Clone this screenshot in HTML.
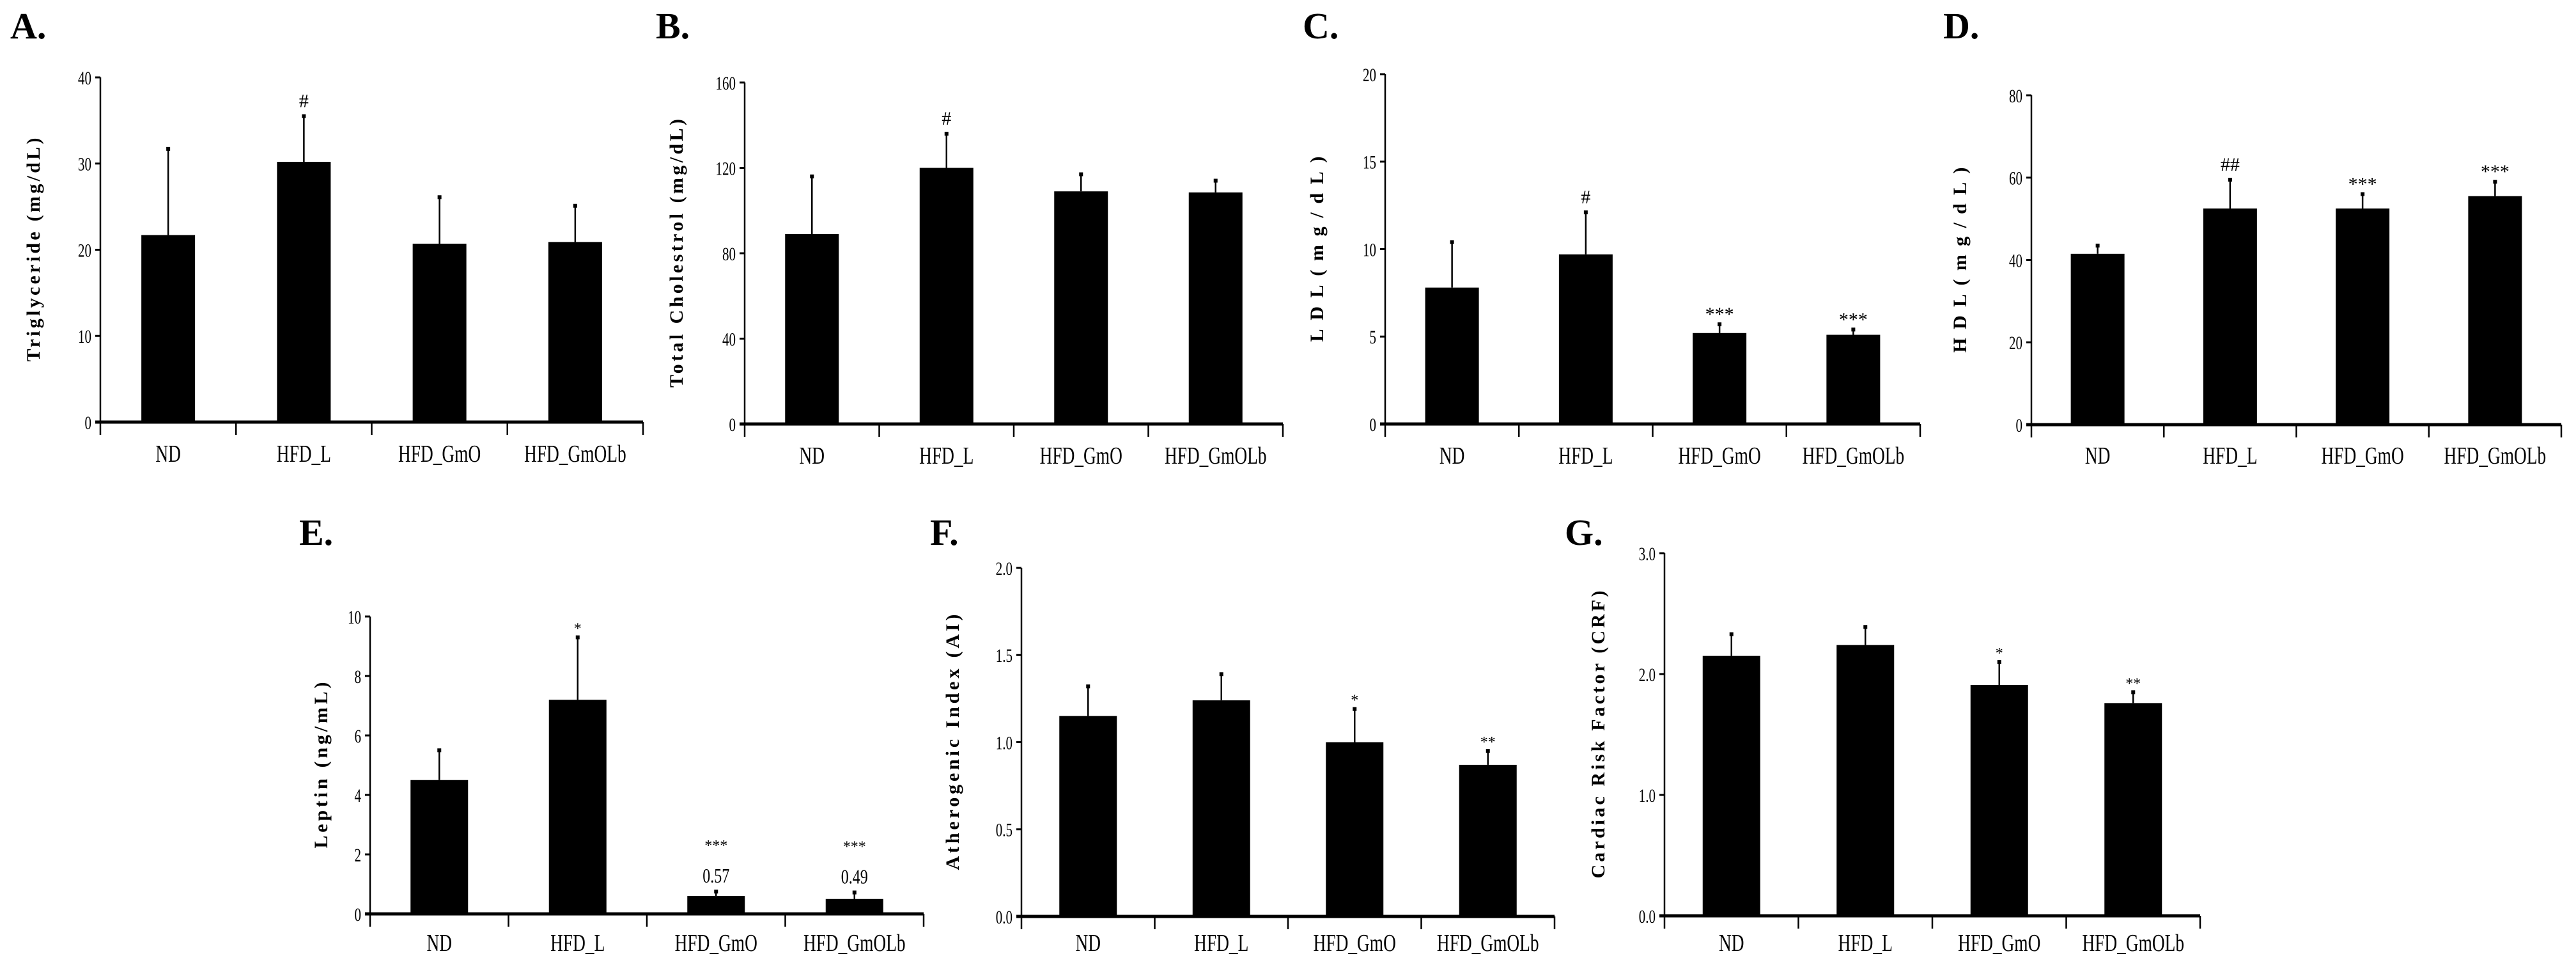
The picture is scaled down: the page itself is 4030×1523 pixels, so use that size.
<!DOCTYPE html>
<html><head><meta charset="utf-8"><style>
html,body{margin:0;padding:0;background:#fff;}
svg{display:block;}
text{font-family:"Liberation Serif",serif;fill:#000;}
</style></head><body>
<svg id="fig" width="4030" height="1523" viewBox="0 0 4030 1523" xmlns="http://www.w3.org/2000/svg"></svg>
<script>
const categories = ["ND","HFD_L","HFD_GmO","HFD_GmOLb"];
const trigValues = [21.7, 30.2, 20.7, 20.9];
const trigErrTop = [31.7, 35.5, 26.1, 25.1];
const trigSig = ["", "#", "", ""];
const cholValues = [89, 120, 109, 108.5];
const cholErrTop = [116, 136, 117, 114];
const cholSig = ["", "#", "", ""];
const ldlValues = [7.8, 9.7, 5.2, 5.1];
const ldlErrTop = [10.4, 12.1, 5.7, 5.4];
const ldlSig = ["", "#", "***", "***"];
const hdlValues = [41.5, 52.5, 52.5, 55.5];
const hdlErrTop = [43.5, 59.5, 56, 59];
const hdlSig = ["", "##", "***", "***"];
const leptinValues = [4.5, 7.2, 0.6, 0.5];
const leptinErrTop = [5.5, 9.3, 0.75, 0.72];
const leptinSig = ["", "*", "***", "***"];
const leptinPrinted = ["", "", "0.57", "0.49"];
const aiValues = [1.15, 1.24, 1.0, 0.87];
const aiErrTop = [1.32, 1.39, 1.19, 0.95];
const aiSig = ["", "", "*", "**"];
const crfValues = [2.15, 2.24, 1.91, 1.76];
const crfErrTop = [2.33, 2.39, 2.1, 1.85];
const crfSig = ["", "", "*", "**"];
const trigTicks = ["0","10","20","30","40"];
const cholTicks = ["0","40","80","120","160"];
const ldlTicks = ["0","5","10","15","20"];
const hdlTicks = ["0","20","40","60","80"];
const leptinTicks = ["0","2","4","6","8","10"];
const aiTicks = ["0.0","0.5","1.0","1.5","2.0"];
const crfTicks = ["0.0","1.0","2.0","3.0"];

const NS = "http://www.w3.org/2000/svg";
const svg = document.getElementById('fig');
function mk(tag, attrs, parent){
  const e = document.createElementNS(NS, tag);
  for (const k in attrs) e.setAttribute(k, attrs[k]);
  (parent||svg).appendChild(e);
  return e;
}

function panel(p){
  const g = mk('g', {});
  
  
  const max = parseFloat(p.ticks[p.ticks.length-1]);
  const y = v => p.y0 - (v/max)*(p.y0 - p.yTop);
  const n = categories.length;
  const step = (p.x1 - p.x0)/n;
  const cx = i => p.x0 + step*(i+0.5);
  const L = mk('text', {x:p.lx, y:p.ly, 'font-size':58, 'font-weight':'bold'}, g);
  L.textContent = p.letter;
  
  
  const tcy = (p.y0 + p.yTop)/2;
  const T = mk('text', {x:p.tx, y:tcy, 'font-size':30, 'font-weight':'bold', 'text-anchor':'middle',
    transform:`rotate(-90 ${p.tx} ${tcy})`, textLength:p.tlen, lengthAdjust:'spacing'}, g);
  T.textContent = p.title;
  
  
  const ya = mk('line', {x1:p.x0, y1:p.yTop, x2:p.x0, y2:p.y0, stroke:'#000','stroke-width':2.5}, g);
  
  
  p.ticks.forEach(t => {
    const yy = y(parseFloat(t));
    mk('line', {x1:p.x0-8, y1:yy, x2:p.x0, y2:yy, stroke:'#000','stroke-width':3}, g);
    const tl = mk('text', {x:p.x0-14, y:yy+11, 'font-size':30, 'text-anchor':'end', transform:`translate(${p.x0-14} 0) scale(0.7 1) translate(${-(p.x0-14)} 0)`}, g);
    tl.textContent = t;
    
    
  });
  categories.forEach((c, i) => {
    const v = p.values[i], e = p.err[i];
    const bw = p.bw;
    const el = mk('line', {x1:cx(i), y1:y(e), x2:cx(i), y2:y(v), stroke:'#000','stroke-width':2.5}, g);
    
    
    mk('rect', {x:cx(i)-3, y:y(e)-3, width:6, height:6, fill:'#000'}, g);
    const b = mk('rect', {x:cx(i)-bw/2, y:y(v), width:bw, height:p.y0 - y(v), fill:'#000'}, g);
    
    
    let top = y(e) - 14;
    if (p.printed && p.printed[i]) {
      const pv = mk('text', {x:cx(i), y:top, 'font-size':32, 'text-anchor':'middle', transform:`translate(${cx(i)} 0) scale(0.75 1) translate(${-cx(i)} 0)`}, g);
      pv.textContent = p.printed[i];
      
      
      top -= 58;
    }
    if (p.sig[i]) {
      const s = mk('text', {x:cx(i), y:top + (p.sig[i].includes('*')?8:0), 'font-size':p.sigSize||30, 'text-anchor':'middle'}, g);
      s.textContent = p.sig[i];
      
      
    }
    const cl = mk('text', {x:cx(i), y:p.labY, 'font-size':38, 'text-anchor':'middle', transform:`translate(${cx(i)} 0) scale(0.72 1) translate(${-cx(i)} 0)`}, g);
    cl.textContent = c;
    
    
  });
  const xa = mk('line', {x1:p.x0-8, y1:p.y0, x2:p.x1, y2:p.y0, stroke:'#000','stroke-width':5}, g);
  
  
  for (let k=0;k<=n;k++){
    const xx = p.x0 + step*k;
    mk('line', {x1:xx, y1:p.y0, x2:xx, y2:p.y0+20, stroke:'#000','stroke-width':2.5}, g);
  }
}

panel({name:'panel-a-triglyceride', letter:'A.', lx:16, ly:60, title:'Triglyceride (mg/dL)', tx:62, tlen:350,
  x0:157, x1:1006, yTop:121, y0:660, ticks:trigTicks, values:trigValues, err:trigErrTop, sig:trigSig, bw:84, labY:722});
panel({name:'panel-b-total-cholesterol', letter:'B.', lx:1026, ly:60, title:'Total Cholestrol (mg/dL)', tx:1068, tlen:420,
  x0:1165, x1:2007, yTop:129, y0:663, ticks:cholTicks, values:cholValues, err:cholErrTop, sig:cholSig, bw:84, labY:725});
panel({name:'panel-c-ldl', letter:'C.', lx:2038, ly:60, title:'LDL(mg/dL)', tx:2070, tlen:290,
  x0:2167, x1:3004, yTop:116, y0:663, ticks:ldlTicks, values:ldlValues, err:ldlErrTop, sig:ldlSig, bw:84, labY:725});
panel({name:'panel-d-hdl', letter:'D.', lx:3040, ly:60, title:'HDL(mg/dL)', tx:3076, tlen:290,
  x0:3178, x1:4007, yTop:149, y0:664, ticks:hdlTicks, values:hdlValues, err:hdlErrTop, sig:hdlSig, bw:84, labY:725});
panel({name:'panel-e-leptin', letter:'E.', lx:468, ly:852, title:'Leptin (ng/mL)', tx:512, tlen:260,
  x0:579, x1:1445, yTop:964, y0:1429, ticks:leptinTicks, values:leptinValues, err:leptinErrTop, sig:leptinSig, printed:leptinPrinted, bw:90, labY:1487, sigSize:24});
panel({name:'panel-f-atherogenic-index', letter:'F.', lx:1455, ly:852, title:'Atherogenic Index (AI)', tx:1500, tlen:400,
  x0:1598, x1:2432, yTop:888, y0:1433, ticks:aiTicks, values:aiValues, err:aiErrTop, sig:aiSig, bw:90, labY:1487, sigSize:24});
panel({name:'panel-g-cardiac-risk-factor', letter:'G.', lx:2448, ly:852, title:'Cardiac Risk Factor (CRF)', tx:2510, tlen:450,
  x0:2604, x1:3442, yTop:865, y0:1432, ticks:crfTicks, values:crfValues, err:crfErrTop, sig:crfSig, bw:90, labY:1487, sigSize:24});
</script>
</body></html>
